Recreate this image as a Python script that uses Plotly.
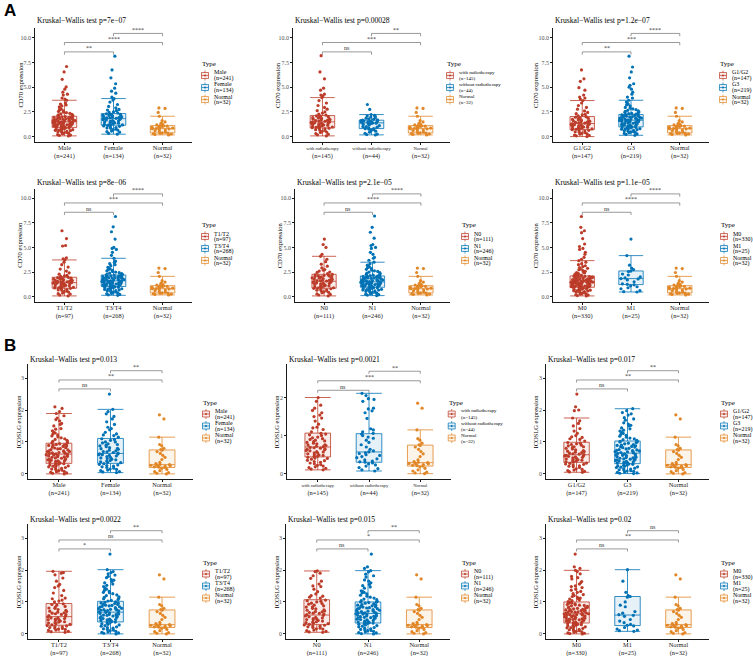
import plotly.graph_objects as go

W, H = 753, 656
COLORS = ["#BC3C29", "#0072B5", "#E18727"]
FILLS = ["rgba(188,60,41,0.10)", "rgba(0,114,181,0.10)", "rgba(225,135,39,0.10)"]
SERIF = "Liberation Serif"

# ---------------- categories ----------------
cats_sex = ["Male", "Female", "Normal"]
n_sex = [241, 134, 32]
cats_rad = ["with radiotherapy", "without radiotherapy", "Normal"]
n_rad = [145, 44, 32]
cats_grade = ["G1/G2", "G3", "Normal"]
n_grade = [147, 219, 32]
cats_t = ["T1/T2", "T3/T4", "Normal"]
n_t = [97, 268, 32]
cats_n = ["N0", "N1", "Normal"]
n_n = [111, 246, 32]
cats_m = ["M0", "M1", "Normal"]
n_m = [330, 25, 32]

# ---------------- CD70 points ----------------
cd70_normal = [0.17, 0.22, 0.26, 0.3, 0.33, 0.36, 0.38, 0.45, 0.52, 0.6, 0.66, 0.72, 0.78, 0.8, 0.82, 0.86,
               0.9, 0.94, 0.98, 1.02, 1.05, 1.09, 1.12, 1.18, 1.25, 1.35, 1.48, 1.62, 2.06, 2.45, 2.85, 2.9]
cd70_male = [0.07, 0.12, 0.2, 0.28, 0.35, 0.41, 0.48, 0.55, 0.6, 0.66, 0.72, 0.78, 0.83, 0.88,
             0.93, 0.98, 1.02, 1.08, 1.12, 1.17, 1.21, 1.26, 1.3, 1.35, 1.4, 1.44, 1.48,
             1.52, 1.56, 1.61, 1.66, 1.7, 1.75, 1.8, 1.86, 1.9, 1.95, 2.0, 2.05,
             2.12, 2.2, 2.3, 2.42, 2.55, 2.7, 2.85, 3.0, 3.2, 3.4, 3.68,
             3.8, 3.9, 4.2, 4.3, 4.5, 4.8, 5.03, 5.8, 6.55, 7.1,
             0.15, 0.32, 0.44, 0.52, 0.63, 0.7, 0.75, 0.86, 0.95, 1.0, 1.05, 1.1, 1.15, 1.19, 1.24,
             1.28, 1.33, 1.38, 1.42, 1.46, 1.5, 1.54, 1.58, 1.63, 1.68, 1.72, 1.78, 1.83, 1.88,
             1.93, 1.98, 2.03, 2.15, 2.25, 2.36, 2.48, 2.6, 2.78, 3.1, 3.3]
cd70_female = [0.24, 0.33, 0.45, 0.56, 0.66, 0.75, 0.84, 0.92, 1.0, 1.08, 1.13,
               1.18, 1.25, 1.32, 1.4, 1.47, 1.55, 1.62, 1.68, 1.75, 1.8,
               1.85, 1.9, 1.96, 2.02, 2.08, 2.14, 2.2, 2.26, 2.31,
               2.4, 2.5, 2.62, 2.75, 2.9, 3.05, 3.25, 3.5, 3.7, 3.85,
               4.0, 4.4, 4.6, 4.9, 5.35, 5.95, 6.75, 8.15,
               0.5, 0.7, 0.88, 1.04, 1.2, 1.28, 1.36, 1.44, 1.52, 1.6, 1.72, 1.78, 1.88, 1.93,
               2.0, 2.1, 2.17, 2.24, 2.45, 2.68]
cd70_rad_with = [0.07, 0.18, 0.3, 0.42, 0.52, 0.62, 0.7, 0.78, 0.85,
                 0.9, 0.97, 1.04, 1.1, 1.17, 1.24, 1.3, 1.36, 1.42, 1.47,
                 1.52, 1.58, 1.65, 1.72, 1.8, 1.88, 1.95, 2.02, 2.1,
                 2.18, 2.27, 2.38, 2.5, 2.62, 2.78, 2.95, 3.15, 3.4, 3.65, 3.95,
                 4.1, 4.2, 4.3, 4.7, 4.9, 5.85, 6.55, 8.2,
                 0.24, 0.46, 0.66, 0.82, 0.94, 1.0, 1.07, 1.14, 1.2, 1.27, 1.33, 1.39, 1.45, 1.55,
                 1.62, 1.69, 1.76, 1.84, 1.92, 2.06]
cd70_rad_without = [0.17, 0.2, 0.25, 0.33, 0.45, 0.55, 0.62, 0.7, 0.75, 0.8, 0.82,
                    0.88, 0.95, 1.0, 1.02, 1.1, 1.18, 1.24, 1.3, 1.33, 1.36, 1.38,
                    1.41, 1.44, 1.47, 1.5, 1.53, 1.56, 1.59, 1.62, 1.64, 1.66,
                    1.7, 1.75, 1.8, 1.86, 1.92, 1.98, 2.05, 2.1, 2.15, 2.23, 2.75, 3.25]
cd70_grade_g12 = [0.0, 0.08, 0.15, 0.24, 0.32, 0.4, 0.48, 0.56, 0.63, 0.69,
                  0.74, 0.8, 0.87, 0.94, 1.0, 1.07, 1.14, 1.2, 1.26, 1.31,
                  1.36, 1.43, 1.5, 1.58, 1.66, 1.74, 1.82, 1.9, 1.97, 2.02,
                  2.1, 2.2, 2.32, 2.45, 2.6, 2.78, 2.95, 3.15, 3.4, 3.65,
                  3.8, 3.9, 4.0, 4.2, 4.7, 4.95, 5.6, 5.85, 6.75,
                  0.12, 0.28, 0.44, 0.6, 0.77, 0.84, 0.9, 0.97, 1.04, 1.1, 1.17, 1.23, 1.29, 1.4,
                  1.47, 1.55, 1.62, 1.7, 1.86, 2.25]
cd70_grade_g3 = [0.13, 0.22, 0.32, 0.42, 0.5, 0.58, 0.66, 0.74, 0.8, 0.86, 0.92, 0.96,
                 1.0, 1.06, 1.12, 1.18, 1.25, 1.32, 1.38, 1.44, 1.5, 1.56, 1.62, 1.65,
                 1.69, 1.74, 1.79, 1.84, 1.9, 1.95, 2.0, 2.06, 2.12, 2.18, 2.22,
                 2.28, 2.36, 2.45, 2.55, 2.66, 2.8, 2.95, 3.1, 3.3, 3.5, 3.68,
                 3.9, 4.0, 4.3, 4.5, 4.8, 5.0, 5.2, 5.35, 5.95, 6.55, 7.05, 8.15,
                 0.27, 0.38, 0.46, 0.54, 0.62, 0.7, 0.77, 0.83, 0.89, 0.94, 1.03, 1.09, 1.15, 1.21,
                 1.28, 1.35, 1.41, 1.47, 1.53, 1.59, 1.64, 1.67, 1.72, 1.77, 1.82, 1.87, 1.92, 1.97,
                 2.03, 2.09, 2.15, 2.2, 2.32, 2.4, 2.5, 2.6, 2.73, 2.88, 3.2, 3.4]
cd70_t_t12 = [0.07, 0.15, 0.26, 0.36, 0.46, 0.56, 0.64, 0.72, 0.8, 0.84,
              0.88, 0.94, 0.95, 1.0, 1.07, 1.1, 1.14, 1.2, 1.25, 1.27, 1.33, 1.38, 1.41,
              1.45, 1.5, 1.51, 1.57, 1.6, 1.63, 1.7, 1.77, 1.84, 1.9, 1.96,
              2.05, 2.15, 2.28, 2.42, 2.6, 2.8, 3.0, 3.25, 3.5, 3.73,
              3.85, 3.95, 5.15, 5.2, 5.9, 6.7,
              0.3, 0.5, 0.68, 0.9, 1.03, 1.17, 1.3, 1.36, 1.47, 1.54, 1.66, 1.74, 1.8, 1.87, 1.93, 2.1]
cd70_t_t34 = [0.13, 0.22, 0.32, 0.42, 0.52, 0.6, 0.68, 0.76, 0.8, 0.84, 0.9, 0.96, 1.0,
              1.05, 1.1, 1.16, 1.2, 1.22, 1.28, 1.3, 1.34, 1.4, 1.46, 1.51, 1.56, 1.59,
              1.63, 1.68, 1.7, 1.74, 1.8, 1.86, 1.9, 1.92, 1.98, 2.0, 2.04, 2.1, 2.15, 2.19,
              2.26, 2.34, 2.44, 2.55, 2.68, 2.82, 2.98, 3.15, 3.35, 3.6, 3.9,
              4.2, 4.5, 4.8, 4.9, 5.0, 5.85, 6.6, 7.1, 8.15,
              0.18, 0.28, 0.37, 0.47, 0.56, 0.64, 0.72, 0.87, 0.93, 0.98, 1.03, 1.08, 1.13, 1.18,
              1.25, 1.32, 1.37, 1.43, 1.48, 1.53, 1.58, 1.61, 1.66, 1.72, 1.77, 1.83, 1.88, 1.95,
              2.02, 2.07, 2.12, 2.17, 2.3, 2.4, 2.5, 2.62, 2.75, 2.9, 3.25, 3.5]
cd70_n_n0 = [0.07, 0.16, 0.27, 0.38, 0.48, 0.57, 0.6, 0.65, 0.73, 0.8, 0.84,
             0.9, 0.98, 1.06, 1.14, 1.2, 1.22, 1.3, 1.37, 1.4, 1.44, 1.5, 1.55,
             1.6, 1.67, 1.75, 1.8, 1.83, 1.91, 1.99, 2.0, 2.07, 2.15, 2.22, 2.26,
             2.35, 2.46, 2.5, 2.6, 2.75, 2.92, 3.1, 3.3, 3.55, 3.8, 4.1,
             4.3, 5.0, 5.3, 5.85,
             0.22, 0.43, 0.69, 0.87, 0.94, 1.02, 1.1, 1.26, 1.34, 1.47, 1.58, 1.64, 1.71, 1.78,
             1.87, 1.95, 2.04, 2.11, 2.19, 2.68]
cd70_n_n1 = [0.1, 0.2, 0.3, 0.4, 0.5, 0.58, 0.66, 0.7, 0.74, 0.8, 0.86, 0.92,
             0.97, 1.02, 1.08, 1.1, 1.13, 1.19, 1.25, 1.3, 1.35, 1.36, 1.41, 1.46,
             1.52, 1.58, 1.6, 1.64, 1.7, 1.76, 1.82, 1.88, 1.9, 1.94, 2.0, 2.06,
             2.14, 2.22, 2.32, 2.44, 2.56, 2.7, 2.86, 3.02, 3.2, 3.35, 3.5,
             3.7, 3.9, 4.0, 4.3, 4.5, 4.9, 5.0, 5.2, 5.3, 5.95, 6.55, 7.05, 8.2,
             0.15, 0.25, 0.35, 0.45, 0.54, 0.62, 0.68, 0.77, 0.83, 0.89, 0.94, 0.99, 1.05, 1.11,
             1.16, 1.22, 1.27, 1.32, 1.38, 1.43, 1.48, 1.5, 1.55, 1.61, 1.67, 1.73, 1.79, 1.85,
             1.92, 1.97, 2.03, 2.08, 2.18, 2.27, 2.38, 2.5, 2.62, 2.78, 2.95, 3.1]
cd70_m_m0 = [0.07, 0.15, 0.24, 0.33, 0.42, 0.5, 0.58, 0.6, 0.65, 0.72, 0.78, 0.84, 0.9, 0.93,
             0.98, 1.0, 1.03, 1.08, 1.13, 1.18, 1.23, 1.25, 1.28, 1.33, 1.38, 1.43, 1.47,
             1.52, 1.57, 1.62, 1.65, 1.68, 1.74, 1.8, 1.86, 1.9, 1.92, 1.98, 2.04, 2.08,
             2.15, 2.22, 2.3, 2.4, 2.52, 2.65, 2.8, 2.96, 3.14, 3.35, 3.66,
             3.8, 4.0, 4.3, 4.5, 4.8, 4.9, 5.1, 5.35, 5.9, 6.5, 6.7, 7.05, 8.15,
             0.1, 0.19, 0.28, 0.37, 0.45, 0.54, 0.62, 0.69, 0.75, 0.81, 0.87, 0.92, 0.96, 1.01,
             1.06, 1.1, 1.15, 1.2, 1.26, 1.3, 1.35, 1.4, 1.45, 1.48, 1.5, 1.55, 1.6, 1.64, 1.7,
             1.76, 1.82, 1.88, 1.94, 2.0, 2.06, 2.1, 2.18, 2.26, 2.35, 2.45, 2.58, 2.72, 2.88,
             3.05, 3.25, 3.5, 1.12, 1.42, 1.72, 0.99]
cd70_m_m1 = [0.47, 0.5, 0.6, 0.8, 0.9, 1.0, 1.1, 1.2, 1.25, 1.3, 1.5, 1.7, 1.8, 1.83,
             1.9, 2.0, 2.2, 2.3, 2.55, 2.6, 2.75, 2.9, 3.2, 4.17, 5.85]

# ---------------- ICOSLG points ----------------
icoslg_normal = [0.0, 0.02, 0.04, 0.07, 0.1, 0.14, 0.18, 0.2, 0.21, 0.22, 0.24, 0.25, 0.26, 0.27, 0.28,
                 0.29, 0.3, 0.32, 0.36, 0.45, 0.52, 0.58, 0.64, 0.7, 0.74, 0.76, 0.8, 0.88, 0.92,
                 1.15, 1.72, 1.85]
icoslg_male = [0.0, 0.02, 0.05, 0.08, 0.12, 0.15, 0.19, 0.22, 0.25, 0.26, 0.29, 0.31,
               0.35, 0.38, 0.4, 0.41, 0.44, 0.45, 0.47, 0.5, 0.53, 0.55, 0.56, 0.58, 0.6, 0.61,
               0.64, 0.65, 0.67, 0.7, 0.7, 0.73, 0.76, 0.79, 0.82, 0.86, 0.89, 0.9, 0.92, 0.95,
               1.0, 1.05, 1.1, 1.16, 1.22, 1.28, 1.3, 1.35, 1.42, 1.5, 1.58, 1.66, 1.75, 1.82, 1.89,
               1.95, 2.05, 2.1,
               0.03, 0.07, 0.1, 0.14, 0.17, 0.2, 0.24, 0.28, 0.32, 0.34, 0.37, 0.39, 0.43, 0.46,
               0.49, 0.52, 0.54, 0.57, 0.59, 0.62, 0.63, 0.66, 0.69, 0.72, 0.75, 0.78, 0.81, 0.84,
               0.87, 0.91, 0.94, 0.97, 1.02, 1.08, 1.13, 1.19, 1.25, 1.4, 1.55, 1.7]
icoslg_female = [0.04, 0.07, 0.1, 0.14, 0.15, 0.18, 0.2, 0.22, 0.26, 0.3, 0.32,
                 0.35, 0.36, 0.4, 0.44, 0.48, 0.5, 0.52, 0.56, 0.6, 0.6, 0.63,
                 0.67, 0.7, 0.72, 0.77, 0.8, 0.82, 0.88, 0.9, 0.94, 1.0, 1.0, 1.05, 1.1,
                 1.15, 1.22, 1.25, 1.3, 1.38, 1.46, 1.55, 1.63, 1.72, 1.8, 1.88, 1.95, 2.02,
                 2.5,
                 0.06, 0.12, 0.24, 0.28, 0.38, 0.42, 0.46, 0.54, 0.58, 0.62, 0.65, 0.69, 0.74, 0.79,
                 0.85, 0.92, 0.97, 1.08, 1.2, 1.42]
icoslg_rad_with = [0.1, 0.14, 0.18, 0.2, 0.22, 0.26, 0.3, 0.34, 0.35, 0.38, 0.41, 0.43,
                   0.46, 0.49, 0.5, 0.52, 0.55, 0.58, 0.6, 0.61, 0.64, 0.65, 0.67, 0.69,
                   0.72, 0.75, 0.76, 0.8, 0.84, 0.88, 0.9, 0.92, 0.96, 1.0, 1.04, 1.06,
                   1.1, 1.16, 1.22, 1.3, 1.38, 1.46, 1.5, 1.54, 1.6, 1.66, 1.72, 1.8, 1.9, 2.0,
                   0.12, 0.16, 0.24, 0.28, 0.32, 0.4, 0.45, 0.48, 0.54, 0.57, 0.63, 0.68, 0.71, 0.74,
                   0.78, 0.82, 0.86, 0.94, 1.02, 1.2]
icoslg_rad_without = [0.07, 0.1, 0.13, 0.16, 0.2, 0.23, 0.26, 0.28, 0.3, 0.31,
                      0.33, 0.36, 0.39, 0.42, 0.45, 0.48, 0.5, 0.53, 0.55, 0.57,
                      0.6, 0.64, 0.7, 0.76, 0.82, 0.88, 0.93, 0.96, 1.0, 1.04,
                      1.06, 1.1, 1.15, 1.18, 1.45, 1.6, 1.65, 1.7, 1.72, 1.9,
                      1.95, 1.97, 2.05, 2.11]
icoslg_grade_g12 = [0.05, 0.08, 0.12, 0.16, 0.2, 0.24, 0.25, 0.28, 0.31, 0.34,
                    0.38, 0.4, 0.41, 0.44, 0.45, 0.47, 0.5, 0.53, 0.55, 0.56, 0.58, 0.6,
                    0.63, 0.65, 0.67, 0.7, 0.71, 0.75, 0.8, 0.85, 0.85, 0.9, 0.94, 0.98,
                    1.03, 1.08, 1.1, 1.14, 1.2, 1.27, 1.34, 1.42, 1.5, 1.58, 1.66, 1.75,
                    1.98, 2.0, 2.1, 2.5,
                    0.06, 0.1, 0.14, 0.22, 0.3, 0.33, 0.37, 0.43, 0.49, 0.52, 0.57, 0.62, 0.68, 0.73,
                    0.78, 0.83, 0.88, 0.92, 0.96, 1.16]
icoslg_grade_g3 = [0.01, 0.03, 0.06, 0.09, 0.1, 0.12, 0.15, 0.18, 0.2, 0.21, 0.24, 0.27, 0.3,
                   0.34, 0.35, 0.37, 0.4, 0.43, 0.45, 0.46, 0.49, 0.5, 0.52, 0.55, 0.58, 0.6, 0.61, 0.64,
                   0.67, 0.7, 0.7, 0.73, 0.75, 0.76, 0.8, 0.84, 0.85, 0.88, 0.9, 0.92, 0.96, 1.0, 1.02,
                   1.07, 1.1, 1.12, 1.18, 1.24, 1.3, 1.37, 1.44, 1.5, 1.52, 1.6, 1.68, 1.76, 1.84,
                   1.92, 1.98, 2.04,
                   0.02, 0.05, 0.08, 0.13, 0.16, 0.22, 0.25, 0.28, 0.31, 0.33, 0.36, 0.39, 0.42, 0.44,
                   0.47, 0.51, 0.54, 0.57, 0.59, 0.63, 0.66, 0.69, 0.72, 0.74, 0.78, 0.82, 0.86, 0.89,
                   0.94, 0.98, 1.01, 1.05, 1.15, 1.21, 1.27, 1.34, 1.41, 1.56, 1.72, 1.88]
icoslg_t_t12 = [0.05, 0.08, 0.11, 0.14, 0.15, 0.17, 0.2, 0.23, 0.25, 0.26,
                0.3, 0.34, 0.35, 0.38, 0.4, 0.42, 0.45, 0.46, 0.5, 0.5, 0.53,
                0.57, 0.6, 0.61, 0.65, 0.66, 0.7, 0.71, 0.76, 0.8, 0.81, 0.86, 0.9, 0.94,
                1.0, 1.06, 1.1, 1.12, 1.2, 1.28, 1.36, 1.45, 1.5, 1.55, 1.65, 1.75, 1.85, 1.9,
                1.92, 1.96,
                0.07, 0.12, 0.18, 0.22, 0.28, 0.32, 0.37, 0.44, 0.48, 0.55, 0.63, 0.68, 0.74, 0.84,
                0.92, 1.03]
icoslg_t_t34 = [0.0, 0.03, 0.06, 0.1, 0.12, 0.14, 0.18, 0.2, 0.22, 0.26, 0.3, 0.34, 0.37,
                0.4, 0.43, 0.45, 0.46, 0.5, 0.54, 0.55, 0.58, 0.6, 0.62, 0.65, 0.66,
                0.7, 0.73, 0.75, 0.76, 0.78, 0.8, 0.84, 0.85, 0.88, 0.9, 0.92, 0.95, 0.96, 1.0,
                1.05, 1.1, 1.12, 1.16, 1.22, 1.29, 1.3, 1.36, 1.44, 1.48, 1.52, 1.6, 1.68, 1.7,
                1.76, 1.84, 1.92, 1.95, 2.01, 2.5,
                0.02, 0.05, 0.08, 0.16, 0.24, 0.28, 0.32, 0.36, 0.39, 0.42, 0.44, 0.48, 0.52, 0.56,
                0.59, 0.61, 0.64, 0.67, 0.69, 0.72, 0.74, 0.77, 0.79, 0.82, 0.86, 0.89, 0.93, 0.97,
                0.99, 1.03, 1.08, 1.14, 1.2, 1.26, 1.33, 1.4, 1.56, 1.64, 1.8, 1.88]
icoslg_n_n0 = [0.05, 0.08, 0.12, 0.15, 0.16, 0.2, 0.24, 0.25, 0.27, 0.28,
               0.32, 0.35, 0.36, 0.4, 0.44, 0.45, 0.48, 0.5, 0.52, 0.56, 0.58,
               0.62, 0.65, 0.67, 0.7, 0.72, 0.75, 0.78, 0.84, 0.85, 0.9, 0.95, 0.96, 1.02, 1.06,
               1.12, 1.18, 1.2, 1.25, 1.32, 1.4, 1.48, 1.5, 1.56, 1.65, 1.74, 1.82, 1.9, 1.95, 1.97,
               0.06, 0.1, 0.18, 0.22, 0.3, 0.34, 0.38, 0.42, 0.47, 0.54, 0.6, 0.64, 0.69, 0.74,
               0.8, 0.88, 0.93, 1.0, 1.04, 1.15]
icoslg_n_n1 = [0.0, 0.03, 0.06, 0.1, 0.12, 0.14, 0.18, 0.2, 0.22, 0.26, 0.3, 0.33,
               0.35, 0.37, 0.4, 0.44, 0.45, 0.48, 0.5, 0.52, 0.55, 0.56, 0.58, 0.6, 0.63,
               0.65, 0.67, 0.7, 0.72, 0.74, 0.78, 0.8, 0.82, 0.85, 0.86, 0.9, 0.9, 0.94, 0.98, 1.0,
               1.04, 1.09, 1.12, 1.15, 1.21, 1.28, 1.3, 1.35, 1.43, 1.51, 1.55, 1.6, 1.69, 1.78,
               1.87, 1.94, 1.98, 2.05, 2.1, 2.5,
               0.01, 0.04, 0.08, 0.11, 0.16, 0.24, 0.28, 0.32, 0.34, 0.36, 0.39, 0.42, 0.46, 0.49,
               0.51, 0.54, 0.57, 0.59, 0.62, 0.64, 0.66, 0.69, 0.71, 0.73, 0.76, 0.79, 0.81, 0.84,
               0.88, 0.92, 0.96, 0.99, 1.02, 1.07, 1.18, 1.25, 1.33, 1.47, 1.65, 1.82]
icoslg_m_m0 = [0.0, 0.02, 0.05, 0.08, 0.11, 0.14, 0.17, 0.2, 0.23, 0.26, 0.29, 0.3, 0.32,
               0.36, 0.39, 0.4, 0.42, 0.44, 0.45, 0.48, 0.5, 0.51, 0.54, 0.55, 0.57, 0.6, 0.6, 0.62,
               0.65, 0.66, 0.68, 0.7, 0.71, 0.74, 0.75, 0.77, 0.8, 0.82, 0.84, 0.88, 0.9, 0.92, 0.96, 0.99,
               1.04, 1.09, 1.1, 1.14, 1.2, 1.26, 1.33, 1.4, 1.48, 1.5, 1.56, 1.64, 1.72, 1.8,
               1.88, 1.95, 1.99, 2.05, 2.1, 2.5,
               0.01, 0.03, 0.06, 0.1, 0.13, 0.16, 0.19, 0.22, 0.25, 0.28, 0.31, 0.33, 0.35, 0.38,
               0.41, 0.43, 0.46, 0.47, 0.49, 0.52, 0.53, 0.56, 0.58, 0.59, 0.61, 0.63, 0.64, 0.67,
               0.69, 0.72, 0.73, 0.76, 0.78, 0.81, 0.83, 0.86, 0.89, 0.91, 0.94, 0.97, 1.01, 1.06,
               1.12, 1.17, 1.23, 1.3, 1.37, 1.45, 1.6, 1.76]
icoslg_m_m1 = [0.08, 0.1, 0.12, 0.15, 0.2, 0.25, 0.27, 0.3, 0.35, 0.4, 0.45, 0.55, 0.58,
               0.6, 0.65, 0.7, 0.85, 0.9, 1.0, 1.15, 1.17, 1.2, 1.3, 1.65, 2.01]

# ---------------- box statistics: [lowerfence, q1, median, q3, upperfence] ----------------
cd70_box_normal = [0.17, 0.37, 0.81, 1.11, 2.06]
cd70_box_male = [0.07, 0.91, 1.49, 2.06, 3.68]
cd70_box_female = [0.24, 1.15, 1.82, 2.33, 3.85]
cd70_box_rad_with = [0.07, 0.88, 1.49, 2.13, 3.95]
cd70_box_rad_without = [0.17, 0.81, 1.39, 1.66, 2.23]
cd70_box_g12 = [0.0, 0.71, 1.32, 2.03, 3.65]
cd70_box_g3 = [0.13, 0.98, 1.66, 2.23, 3.68]
cd70_box_t12 = [0.07, 0.85, 1.42, 1.97, 3.73]
cd70_box_t34 = [0.13, 1.02, 1.6, 2.2, 3.9]
cd70_box_n0 = [0.07, 0.85, 1.56, 2.27, 4.1]
cd70_box_n1 = [0.1, 0.95, 1.49, 2.1, 3.5]
cd70_box_m0 = [0.07, 0.95, 1.49, 2.1, 3.66]
cd70_box_m1 = [0.47, 1.22, 1.83, 2.61, 4.17]

icoslg_box_normal = [0.0, 0.2, 0.29, 0.75, 1.15]
icoslg_box_male = [0.0, 0.33, 0.62, 0.96, 1.89]
icoslg_box_female = [0.04, 0.33, 0.64, 1.11, 2.02]
icoslg_box_rad_with = [0.1, 0.44, 0.7, 1.065, 2.0]
icoslg_box_rad_without = [0.07, 0.3, 0.57, 1.05, 2.11]
icoslg_box_g12 = [0.05, 0.36, 0.6, 0.99, 1.75]
icoslg_box_g3 = [0.01, 0.32, 0.65, 1.03, 2.04]
icoslg_box_t12 = [0.05, 0.27, 0.54, 0.95, 1.96]
icoslg_box_t34 = [0.0, 0.375, 0.68, 1.02, 2.01]
icoslg_box_n0 = [0.05, 0.29, 0.59, 1.07, 1.97]
icoslg_box_n1 = [0.0, 0.34, 0.64, 1.0, 1.98]
icoslg_box_m0 = [0.0, 0.34, 0.63, 1.0, 1.99]
icoslg_box_m1 = [0.08, 0.26, 0.59, 1.17, 2.01]

# ---------------- test results ----------------
kw_p = ["7e\u221207", "0.00028", "1.2e\u221207", "8e\u221206", "2.1e\u221205", "1.1e\u221205",
        "0.013", "0.0021", "0.017", "0.0022", "0.015", "0.02"]
# pairwise labels: [first vs second, first vs Normal, second vs Normal]
sig_labels = [["**", "****", "****"], ["ns", "***", "**"], ["**", "***", "****"],
              ["ns", "***", "****"], ["ns", "****", "****"], ["ns", "****", "****"],
              ["ns", "**", "**"], ["ns", "***", "**"], ["ns", "**", "**"],
              ["*", "ns", "**"], ["ns", "*", "**"], ["ns", "**", "ns"]]

# ---------------- panel definitions ----------------
groups = [
    (cats_sex, n_sex, [cd70_male, cd70_female, cd70_normal], [cd70_box_male, cd70_box_female, cd70_box_normal], "CD70"),
    (cats_rad, n_rad, [cd70_rad_with, cd70_rad_without, cd70_normal], [cd70_box_rad_with, cd70_box_rad_without, cd70_box_normal], "CD70"),
    (cats_grade, n_grade, [cd70_grade_g12, cd70_grade_g3, cd70_normal], [cd70_box_g12, cd70_box_g3, cd70_box_normal], "CD70"),
    (cats_t, n_t, [cd70_t_t12, cd70_t_t34, cd70_normal], [cd70_box_t12, cd70_box_t34, cd70_box_normal], "CD70"),
    (cats_n, n_n, [cd70_n_n0, cd70_n_n1, cd70_normal], [cd70_box_n0, cd70_box_n1, cd70_box_normal], "CD70"),
    (cats_m, n_m, [cd70_m_m0, cd70_m_m1, cd70_normal], [cd70_box_m0, cd70_box_m1, cd70_box_normal], "CD70"),
    (cats_sex, n_sex, [icoslg_male, icoslg_female, icoslg_normal], [icoslg_box_male, icoslg_box_female, icoslg_box_normal], "ICOSLG"),
    (cats_rad, n_rad, [icoslg_rad_with, icoslg_rad_without, icoslg_normal], [icoslg_box_rad_with, icoslg_box_rad_without, icoslg_box_normal], "ICOSLG"),
    (cats_grade, n_grade, [icoslg_grade_g12, icoslg_grade_g3, icoslg_normal], [icoslg_box_g12, icoslg_box_g3, icoslg_box_normal], "ICOSLG"),
    (cats_t, n_t, [icoslg_t_t12, icoslg_t_t34, icoslg_normal], [icoslg_box_t12, icoslg_box_t34, icoslg_box_normal], "ICOSLG"),
    (cats_n, n_n, [icoslg_n_n0, icoslg_n_n1, icoslg_normal], [icoslg_box_n0, icoslg_box_n1, icoslg_box_normal], "ICOSLG"),
    (cats_m, n_m, [icoslg_m_m0, icoslg_m_m1, icoslg_normal], [icoslg_box_m0, icoslg_box_m1, icoslg_box_normal], "ICOSLG"),
]

# layout (pixel geometry)
ROWS = {1: (28, 142), 2: (188.5, 302), 3: (364, 479), 4: (524, 639)}
TITLE_Y = {1: 21, 2: 182, 3: 359, 4: 519}
LEG_Y = {1: 64, 2: 225, 3: 402.5, 4: 562.5}
geo = [
    dict(row=1, x=(35, 192), leg=200, yt=19.5),
    dict(row=1, x=(293, 450), leg=445, yt=277),
    dict(row=1, x=(553, 709), leg=718, yt=535),
    dict(row=2, x=(35, 192), leg=200, yt=19.5),
    dict(row=2, x=(295, 450), leg=460, yt=279),
    dict(row=2, x=(553, 709), leg=719, yt=535),
    dict(row=3, x=(28, 193), leg=201, yt=18),
    dict(row=3, x=(287, 451), leg=446.7, yt=276),
    dict(row=3, x=(546, 709), leg=719, yt=535),
    dict(row=4, x=(28, 193), leg=201, yt=18),
    dict(row=4, x=(286, 450), leg=460, yt=276),
    dict(row=4, x=(546, 709), leg=719, yt=535),
]


def px(x):
    return x / W


def py(y):
    return 1 - y / H


fig = go.Figure()
layout = dict(width=W, height=H, margin=dict(l=0, r=0, t=0, b=0),
              paper_bgcolor="white", plot_bgcolor="white", showlegend=False,
              font=dict(family=SERIF, size=7, color="#000000"))
shapes = []
annotations = []

for k, (cats, ns, pts, boxes, gene) in enumerate(groups):
    g = geo[k]
    sfx = "" if k == 0 else str(k + 1)
    xa, ya = "x" + sfx, "y" + sfx
    x0, x1 = g["x"]
    y0, y1 = ROWS[g["row"]]
    is_rad = cats is cats_rad
    if gene == "CD70":
        yr = [-0.55, 11.0]
        tv = [0, 2.5, 5, 7.5, 10]
        tt = ["0.0", "2.5", "5.0", "7.5", "10.0"]
        levels = [8.58, 9.53, 10.45]
        tip = 0.28
    elif is_rad:
        yr = [-0.14, 2.88]
        tv = [0, 1, 2]
        tt = ["0", "1", "2"]
        levels = [2.19, 2.44, 2.69]
        tip = 0.065
    else:
        yr = [-0.16, 3.44]
        tv = [0, 1, 2, 3]
        tt = ["0", "1", "2", "3"]
        levels = [2.66, 2.94, 3.23]
        tip = 0.08

    if is_rad:
        ticktext = ["<span style='font-size:4.6px'>%s</span><br>(n=%d)" % (c, n) for c, n in zip(cats, ns)]
    else:
        ticktext = ["%s<br>(n=%d)" % (c, n) for c, n in zip(cats, ns)]

    layout["xaxis" + sfx] = dict(domain=[px(x0), px(x1)], anchor=ya, range=[-0.6, 2.6],
                                 tickvals=[0, 1, 2], ticktext=ticktext, showline=True,
                                 linecolor="#1a1a1a", linewidth=0.7, ticks="outside", ticklen=2,
                                 tickwidth=0.6, tickcolor="#1a1a1a", showgrid=False, zeroline=False,
                                 tickfont=dict(family=SERIF, size=6.4, color="#1a1a1a"),
                                 ticklabelstandoff=-3,
                                 fixedrange=True, automargin=False)
    layout["yaxis" + sfx] = dict(domain=[py(y1), py(y0)], anchor=xa, range=yr,
                                 tickvals=tv, ticktext=tt, showline=True,
                                 linecolor="#1a1a1a", linewidth=0.7, ticks="outside", ticklen=2,
                                 tickwidth=0.6, tickcolor="#1a1a1a", showgrid=False, zeroline=False,
                                 tickfont=dict(family=SERIF, size=6, color="#4d4d4d"),
                                 fixedrange=True, automargin=False)

    for gi in range(3):
        lf, q1, md, q3, uf = boxes[gi]
        fig.add_trace(go.Box(x=[gi], q1=[q1], median=[md], q3=[q3], lowerfence=[lf], upperfence=[uf],
                             width=0.5, whiskerwidth=1, fillcolor=FILLS[gi], boxpoints=False,
                             line=dict(color=COLORS[gi], width=0.8), xaxis=xa, yaxis=ya,
                             hoverinfo="skip", name=cats[gi]))
        fig.add_trace(go.Box(x=[gi] * len(pts[gi]), y=pts[gi], boxpoints="all", jitter=1, pointpos=0,
                             width=0.5, fillcolor="rgba(0,0,0,0)",
                             line=dict(color="rgba(0,0,0,0)", width=0),
                             marker=dict(color=COLORS[gi], size=3.2), xaxis=xa, yaxis=ya,
                             name=cats[gi]))

    # brackets
    pairs = [(0, 1), (0, 2), (1, 2)]
    for (i, j), lev, lab in zip(pairs, levels, sig_labels[k]):
        shapes.append(dict(type="path", xref=xa, yref=ya,
                           path="M %g,%g L %g,%g L %g,%g L %g,%g" % (i, lev - tip, i, lev, j, lev, j, lev - tip),
                           line=dict(color="#808080", width=0.8)))
        annotations.append(dict(x=(i + j) / 2, y=lev, xref=xa, yref=ya, text=lab, showarrow=False,
                                yanchor="bottom", yshift=-1.5,
                                font=dict(family=SERIF, size=6, color="#333333")))

    # title
    annotations.append(dict(x=px(x0), y=py(TITLE_Y[g["row"]]), xref="paper", yref="paper",
                            text="Kruskal\u2212Wallis test p=" + kw_p[k], showarrow=False,
                            xanchor="left", yanchor="middle",
                            font=dict(family=SERIF, size=7.6, color="#000000")))
    # y title
    annotations.append(dict(x=px(g["yt"]), y=py((y0 + y1) / 2), xref="paper", yref="paper",
                            text=gene + " expression", textangle=-90, showarrow=False,
                            xanchor="center", yanchor="middle",
                            font=dict(family=SERIF, size=6.5, color="#000000")))
    # legend
    lx = g["leg"]
    ly = LEG_Y[g["row"]]
    annotations.append(dict(x=px(lx), y=py(ly), xref="paper", yref="paper", text="Type",
                            showarrow=False, xanchor="left", yanchor="middle",
                            font=dict(family=SERIF, size=7, color="#000000")))
    lfs = 5 if is_rad else 6
    for gi in range(3):
        ky = ly + 11.5 + 12 * gi
        kx0, kx1 = lx + 1.5, lx + 8.5
        cx = (kx0 + kx1) / 2
        shapes.append(dict(type="rect", xref="paper", yref="paper", x0=px(kx0), x1=px(kx1),
                           y0=py(ky + 3), y1=py(ky - 3), fillcolor=FILLS[gi],
                           line=dict(color=COLORS[gi], width=0.7)))
        shapes.append(dict(type="path", xref="paper", yref="paper",
                           path="M %f,%f L %f,%f M %f,%f L %f,%f M %f,%f L %f,%f" % (
                               px(cx), py(ky - 3), px(cx), py(ky - 5),
                               px(cx), py(ky + 3), px(cx), py(ky + 5),
                               px(kx0), py(ky), px(kx1), py(ky)),
                           line=dict(color=COLORS[gi], width=0.7)))
        shapes.append(dict(type="circle", xref="paper", yref="paper", x0=px(cx - 1), x1=px(cx + 1),
                           y0=py(ky + 1), y1=py(ky - 1), fillcolor=COLORS[gi],
                           line=dict(color=COLORS[gi], width=0)))
        annotations.append(dict(x=px(lx + 12), y=py(ky - 3), xref="paper", yref="paper",
                                text=cats[gi], showarrow=False, xanchor="left", yanchor="middle",
                                font=dict(family=SERIF, size=lfs, color="#000000")))
        annotations.append(dict(x=px(lx + 12), y=py(ky + 3.3), xref="paper", yref="paper",
                                text="(n=%d)" % ns[gi], showarrow=False, xanchor="left", yanchor="middle",
                                font=dict(family=SERIF, size=lfs, color="#000000")))

# panel letters
annotations.append(dict(x=px(2), y=py(11), xref="paper", yref="paper", text="<b>A</b>", showarrow=False,
                        xanchor="left", yanchor="middle",
                        font=dict(family="Liberation Sans", size=17, color="#000000")))
annotations.append(dict(x=px(2), y=py(345), xref="paper", yref="paper", text="<b>B</b>", showarrow=False,
                        xanchor="left", yanchor="middle",
                        font=dict(family="Liberation Sans", size=17, color="#000000")))

layout["shapes"] = shapes
layout["annotations"] = annotations
fig.update_layout(**layout)
fig.write_html("out.html", config={"displayModeBar": False},
               post_script="document.body.style.margin='0';document.body.style.overflow='hidden';")
